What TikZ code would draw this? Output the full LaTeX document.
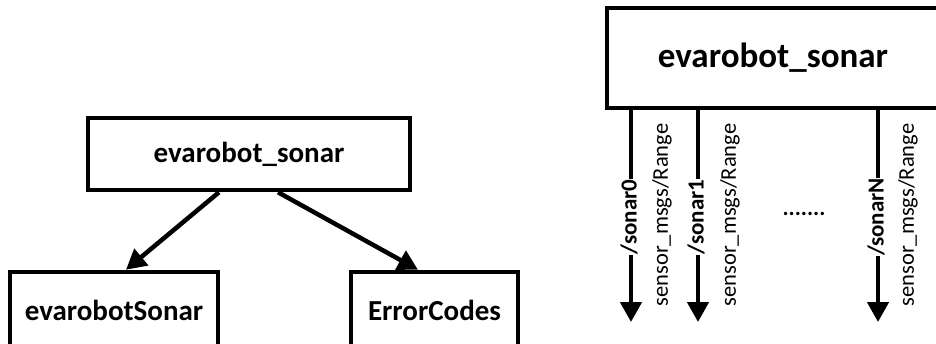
\documentclass[tikz,border=0pt]{standalone}
\usepackage{fontspec}
\setmainfont{Carlito}
\usetikzlibrary{arrows.meta,calc}
\begin{document}
\begin{tikzpicture}[x=1pt,y=-1pt,
  box/.style={draw=black,line width=4.5pt,fill=white,inner sep=0pt,font=\fontsize{29}{34}\selectfont\bfseries},
  arr/.style={line width=4.5pt,-{Triangle[length=20pt,width=21pt]}},
  topic/.style={rotate=90,fill=white,inner sep=0.5pt,font=\fontsize{23}{27}\selectfont\bfseries},
  msg/.style={rotate=90,inner sep=0pt,font=\fontsize{22.5}{27}\selectfont}]
\useasboundingbox (0,0) rectangle (936,343);
\clip (0,0) rectangle (936,343);
% left diagram
\node[box,minimum width=322pt,minimum height=72pt] (top) at (249,154) {evarobot\_sonar};
\node[box,minimum width=208pt,minimum height=76pt] (es) at (114,310) {evarobotSonar};
\node[box,minimum width=167pt,minimum height=76pt] (ec) at (434.5,310) {ErrorCodes};
\draw[arr] ([xshift=-30pt]top.south) -- ([xshift=12pt]es.north);
\draw[arr] ([xshift=29pt]top.south) -- ([xshift=-16.5pt]ec.north);
% right diagram
\node[box,minimum width=332pt,minimum height=100pt,font=\fontsize{35}{40}\selectfont\bfseries] (rb) at (773,58) {evarobot\_sonar};
\coordinate (e0) at (631,322);
\coordinate (e1) at (698,322);
\coordinate (eN) at (878,322);
\draw[arr] (rb.south -| e0) -- (e0);
\draw[arr] (rb.south -| e1) -- (e1);
\draw[arr] (rb.south -| eN) -- (eN);
\node[topic] (t0) at (629,217) {/sonar0};
\node[topic] (t1) at (696,217) {/sonar1};
\node[topic] (tN) at (876,217) {/sonarN};
\node[msg] (m0) at (662,215) {sensor\_msgs/Range};
\node[msg] (m1) at (730,215) {sensor\_msgs/Range};
\node[msg] (mN) at (908,215) {sensor\_msgs/Range};
\node[font=\fontsize{23}{27}\selectfont\bfseries,inner sep=0pt] (dots) at (804,214) {.......};
\end{tikzpicture}
\end{document}
